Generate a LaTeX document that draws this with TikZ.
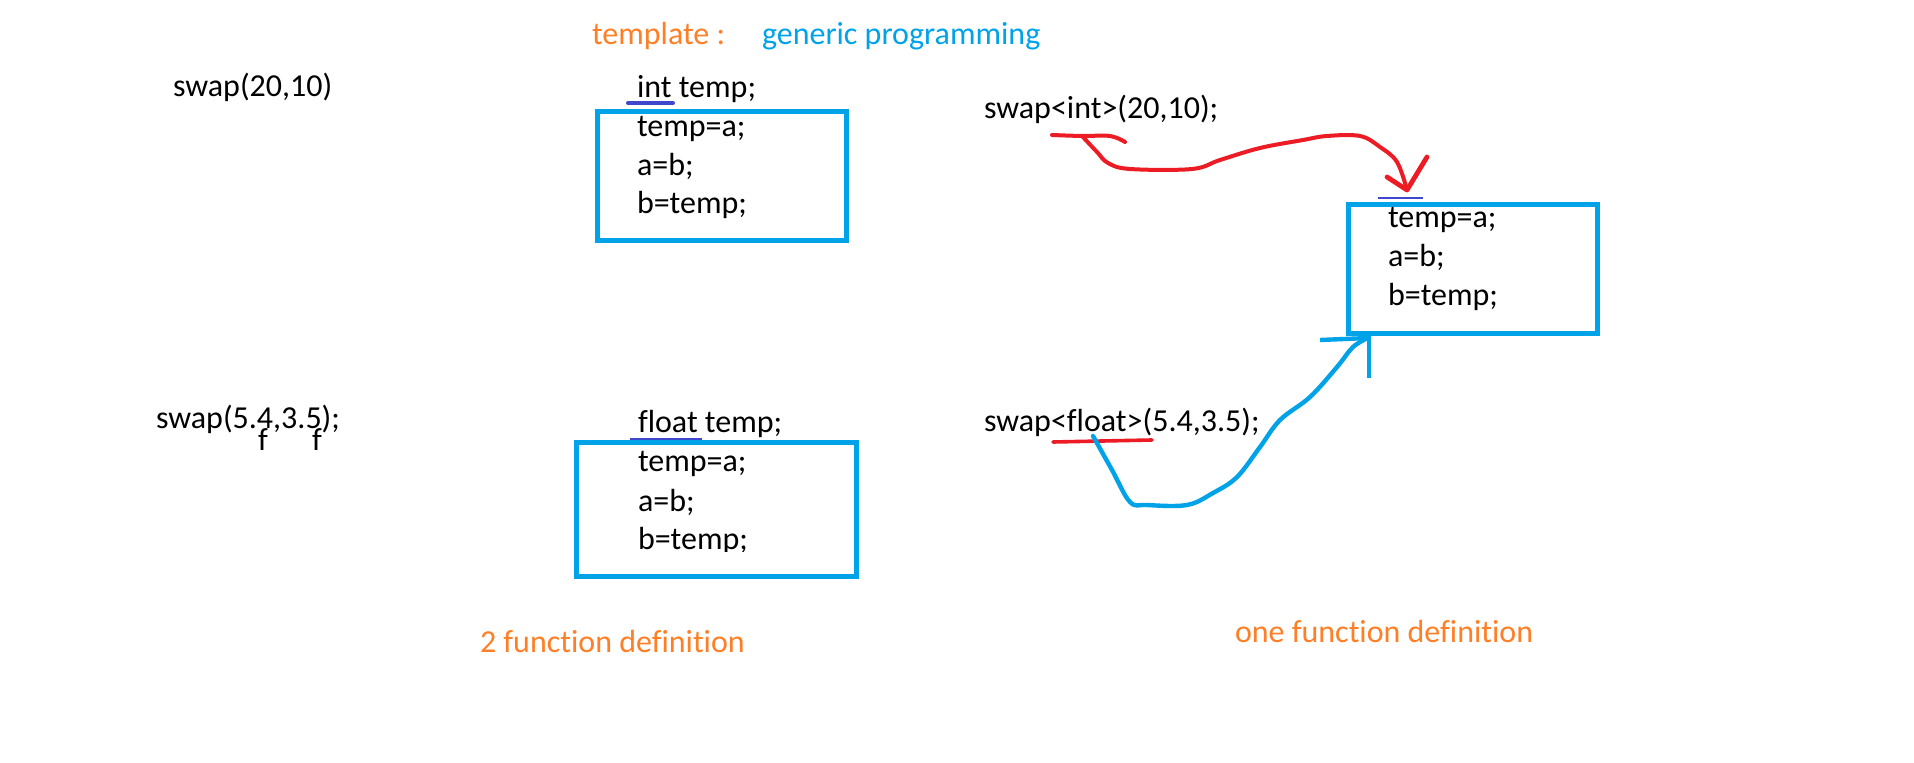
\documentclass[tikz,border=0pt]{standalone}
\usepackage{fontspec}
\setmainfont{Carlito}[Ligatures={NoCommon}]
\definecolor{paintblue}{RGB}{0,162,232}
\definecolor{paintred}{RGB}{237,28,36}
\definecolor{paintorange}{RGB}{255,127,39}
\definecolor{paintindigo}{RGB}{63,72,204}
\begin{document}
\begin{tikzpicture}[x=0.5pt,y=-0.5pt,
  txt/.style={anchor=base west,inner sep=0pt,outer sep=0pt,font=\fontsize{16}{19}\selectfont},
  orangetxt/.style={txt,text=paintorange},
  bluetxt/.style={txt,text=paintblue},
  codebox/.style={draw=paintblue,line width=2.5pt,inner sep=0pt,outer sep=0pt,minimum width=124.5pt,minimum height=64.5pt},
  redpen/.style={draw=paintred,line width=2pt,line cap=round,line join=round},
  bluepen/.style={draw=paintblue,line width=2.2pt,line cap=round,line join=round}]
\useasboundingbox (0,0) rectangle (1914,763);

% headings
\node[orangetxt] (tpl) at (592,45) {template :};
\node[bluetxt] (gen) at (762,45) {generic programming};

% left calls
\node[txt] (call1) at (173,97) {swap(20,10)};
\node[txt] (call2) at (156,429) {swap(5.4,3.5);};
\node[txt] (f1) at (258,451) {f};
\node[txt] (f2) at (312,451) {f};

% box 1
\node[txt] (inttemp) at (637,98) {int temp;};
\draw[paintindigo,line width=2pt,line cap=round] (628,103) coordinate (iu1) -- (673,103) coordinate (iu2);
\node[codebox] (box1) at (722,176) {};
\node[txt] (b1l1) at (637,137) {temp=a;};
\node[txt] (b1l2) at (637,176) {a=b;};
\node[txt] (b1l3) at (637,214) {b=temp;};

% box 2
\node[txt] (floattemp) at (638,433) {float temp;};
\draw[paintindigo,line width=0.7pt] (630,439) coordinate (fu1) -- (702,439) coordinate (fu2);
\node[codebox,minimum width=140pt,minimum height=67pt] (box2) at (716.5,509.5) {};
\node[txt] (b2l1) at (638,472) {temp=a;};
\node[txt] (b2l2) at (638,512) {a=b;};
\begin{scope}
\clip (600,515) rectangle (800,552);
\node[txt] (b2l3) at (638,550) {b=temp;};
\end{scope}

% right calls
\node[txt] (tcall1) at (984,119) {swap<int>(20,10);};
\node[txt] (tcall2) at (984,432) {swap<float>(5.4,3.5);};
\draw[paintred,line width=1.8pt,line cap=round] (1053,442) coordinate (ru1) -- (1152,440) coordinate (ru2);

% box 3
\draw[paintindigo,line width=0.6pt] (1378,198) coordinate (tu1) -- (1423,198) coordinate (tu2);
\node[codebox] (box3) at (1473,269) {};
\node[txt] (b3l1) at (1388,228) {temp=a;};
\node[txt] (b3l2) at (1388,267) {a=b;};
\node[txt] (b3l3) at (1388,306) {b=temp;};

% red freehand arrow
\draw[redpen] plot[smooth,tension=0.6] coordinates {(1052,135) (1082,136) (1110,136) (1125,142)};
\draw[redpen] plot[smooth,tension=0.6] coordinates {(1082,136) (1097,152) (1108,163) (1130,169) (1192,169) (1220,160) (1260,148) (1303,140) (1327,136) (1360,136) (1380,147) (1397,162) (1407,190)};
\draw[redpen,line width=2.4pt] (1387,177) -- (1407,190) -- (1427,157);

% blue freehand arrow
\draw[bluepen] plot[smooth,tension=0.6] coordinates {(1093,436) (1112,470) (1130,502) (1147,505) (1187,505) (1213,493) (1237,477) (1260,447) (1280,420) (1310,397) (1337,367) (1353,347) (1368,338)};
\draw[bluepen,line cap=butt] (1320,340) -- (1369,338);
\draw[bluepen,line cap=butt] (1369,333) -- (1369,378);

% footers
\node[orangetxt] (foot1) at (480,652) {2 function definition};
\node[orangetxt] (foot2) at (1235,642) {one function definition};
\end{tikzpicture}
\end{document}
